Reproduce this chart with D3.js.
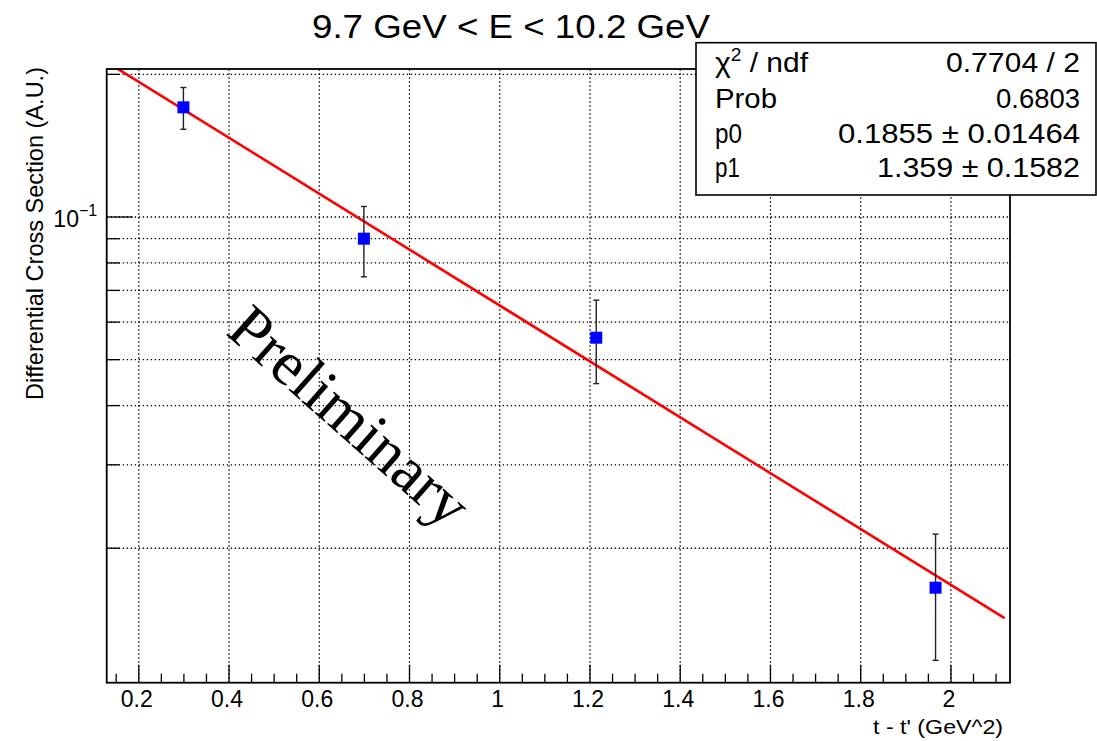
<!DOCTYPE html>
<html>
<head>
<meta charset="utf-8">
<script src="https://cdn.jsdelivr.net/npm/d3@7/dist/d3.min.js"></script>
<style>
  body { margin: 0; background: #fff; }
  svg { display: block; font-family: 'Liberation Sans', Arial, Helvetica, sans-serif; }
  .grid line { stroke: #000; stroke-width: 1.3; stroke-dasharray: 1.4 2.6; }
  .grid path, .ticks path { display: none; }
  .ticks line { stroke: #000; stroke-width: 1.3; }
</style>
</head>
<body>
<svg id="chart"></svg>
<script>
/* global d3:true */

// data
const xVals = [0.30, 0.70, 1.215, 1.967]
const yVals = [0.170, 0.0898, 0.0555, 0.01647]
const yErr = [0.0172, 0.0152, 0.0111, 0.0049]

// fitted exponential, two end points (straight on log axis)
const fitX = [0.14, 2.12]
const fitY = [0.209, 0.0142]

const xMajor = [0.2, 0.4, 0.6, 0.8, 1.0, 1.2, 1.4, 1.6, 1.8, 2.0]
const yTicks = [0.02, 0.03, 0.04, 0.05, 0.06, 0.07, 0.08, 0.09, 0.1, 0.2]

const titleText = '9.7 GeV < E < 10.2 GeV'
const xTitle = "t - t' (GeV^2)"
const yTitle = 'Differential Cross Section (A.U.)'
const statNames = ['/ ndf', 'Prob', 'p0', 'p1']
const statValues = ['0.7704 / 2', '0.6803', '0.1855 \u00b1 0.01464', '1.359 \u00b1 0.1582']

// dimensions
const w = 1097
const h = 741
const frame = { left: 106.7, right: 1010, top: 69, bottom: 682.7 }

const svg = d3.select('#chart')
  .attr('width', w)
  .attr('height', h)

const x = d3.scaleLinear()
  .domain([0.13, 2.132])
  .range([frame.left, frame.right])

const y = d3.scaleLog()
  .domain([0.01038, 0.2048])
  .range([frame.bottom, frame.top])

const fw = frame.right - frame.left
const fh = frame.bottom - frame.top

// grid
svg.append('g')
  .attr('class', 'grid')
  .attr('transform', `translate(0, ${frame.bottom})`)
  .call(d3.axisBottom(x).tickValues(xMajor).tickSize(-fh).tickFormat(''))

svg.append('g')
  .attr('class', 'grid')
  .attr('transform', `translate(${frame.left}, 0)`)
  .call(d3.axisLeft(y).tickValues(yTicks).tickSize(-fw).tickFormat(''))

// fit line
svg.append('clipPath')
  .attr('id', 'frameClip')
  .append('rect')
  .attr('x', frame.left)
  .attr('y', frame.top)
  .attr('width', fw)
  .attr('height', fh)

const fitLine = d3.line()
  .x(d => x(d[0]))
  .y(d => y(d[1]))

svg.append('path')
  .datum(fitX.map((d, i) => [d, fitY[i]]))
  .attr('clip-path', 'url(#frameClip)')
  .attr('d', fitLine)
  .attr('fill', 'none')
  .attr('stroke', '#ff0000')
  .attr('stroke-width', 2.6)

// error bars
const points = xVals.map((d, i) => ({ x: d, y: yVals[i], e: yErr[i] }))
const capW = 3

const bars = svg.append('g')
  .attr('stroke', '#222')
  .attr('stroke-width', 1.4)

bars.selectAll('.err')
  .data(points)
  .enter()
  .append('line')
  .attr('x1', d => x(d.x))
  .attr('x2', d => x(d.x))
  .attr('y1', d => y(d.y + d.e))
  .attr('y2', d => y(d.y - d.e))

bars.selectAll('.capTop')
  .data(points)
  .enter()
  .append('line')
  .attr('x1', d => x(d.x) - capW)
  .attr('x2', d => x(d.x) + capW)
  .attr('y1', d => y(d.y + d.e))
  .attr('y2', d => y(d.y + d.e))

bars.selectAll('.capBot')
  .data(points)
  .enter()
  .append('line')
  .attr('x1', d => x(d.x) - capW)
  .attr('x2', d => x(d.x) + capW)
  .attr('y1', d => y(d.y - d.e))
  .attr('y2', d => y(d.y - d.e))

// markers
const ms = 12
svg.selectAll('.marker')
  .data(points)
  .enter()
  .append('rect')
  .attr('x', d => x(d.x) - ms / 2)
  .attr('y', d => y(d.y) - ms / 2)
  .attr('width', ms)
  .attr('height', ms)
  .attr('fill', '#0000ff')

// axes ticks (pointing inward, root style)
const xMinor = d3.range(0.15, 2.13, 0.05).filter(v => Math.abs(v * 5 - Math.round(v * 5)) > 0.01)

svg.append('g')
  .attr('class', 'ticks')
  .attr('transform', `translate(0, ${frame.bottom})`)
  .call(d3.axisBottom(x).tickValues(xMinor).tickSize(-9).tickFormat(''))

const xAxis = svg.append('g')
  .attr('class', 'ticks')
  .attr('transform', `translate(0, ${frame.bottom})`)
  .call(d3.axisBottom(x).tickValues(xMajor).tickSize(-18).tickPadding(8)
    .tickFormat(d => String(+d.toFixed(1))))

xAxis.selectAll('text')
  .attr('x', -2)
  .attr('fill', '#000')
  .style('font-size', '23px')
  .style('font-family', 'Liberation Sans, Arial, sans-serif')

svg.append('g')
  .attr('class', 'ticks')
  .attr('transform', `translate(${frame.left}, 0)`)
  .call(d3.axisLeft(y).tickValues(yTicks.filter(v => v !== 0.1)).tickSize(-13).tickFormat(''))

const yAxis = svg.append('g')
  .attr('class', 'ticks')
  .attr('transform', `translate(${frame.left}, 0)`)
  .call(d3.axisLeft(y).tickValues([0.1]).tickSize(-26).tickPadding(9.5).tickFormat(() => '10'))

yAxis.selectAll('text')
  .attr('dy', 10)
  .attr('fill', '#000')
  .style('font-size', '23px')
  .style('font-family', 'Liberation Sans, Arial, sans-serif')
  .append('tspan')
  .attr('dy', -11)
  .style('font-size', '16px')
  .text('\u22121')

// frame
svg.append('rect')
  .attr('x', frame.left)
  .attr('y', frame.top)
  .attr('width', fw)
  .attr('height', fh)
  .attr('fill', 'none')
  .attr('stroke', '#000')
  .attr('stroke-width', 1.8)

// title and axis titles
svg.append('text')
  .attr('x', 511)
  .attr('y', 38)
  .attr('text-anchor', 'middle')
  .attr('textLength', 398)
  .attr('lengthAdjust', 'spacingAndGlyphs')
  .style('font-size', '33px')
  .text(titleText)

svg.append('text')
  .attr('x', 1003)
  .attr('y', 734)
  .attr('text-anchor', 'end')
  .attr('textLength', 130)
  .attr('lengthAdjust', 'spacingAndGlyphs')
  .style('font-size', '21px')
  .text(xTitle)

svg.append('text')
  .attr('transform', 'translate(43, 67) rotate(-90)')
  .attr('text-anchor', 'end')
  .attr('textLength', 333)
  .attr('lengthAdjust', 'spacingAndGlyphs')
  .style('font-size', '24px')
  .text(yTitle)

// watermark
svg.append('text')
  .attr('transform', 'translate(336, 432) rotate(41.5)')
  .attr('text-anchor', 'middle')
  .style('font-family', 'Liberation Serif, Times New Roman, serif')
  .style('font-size', '63px')
  .text('Preliminary')

// stats box
const box = { x: 696, y: 42.7, w: 400, h: 152.3 }
const rowBase = [72, 107.5, 142.5, 177]
const nameW = [93, 62, 27, 25]
const valueW = [134, 84, 242, 203]

svg.append('rect')
  .attr('x', box.x)
  .attr('y', box.y)
  .attr('width', box.w)
  .attr('height', box.h)
  .attr('fill', '#fff')
  .attr('stroke', '#000')
  .attr('stroke-width', 1.6)

const stats = svg.append('g')
  .style('font-size', '28px')

statNames.forEach((name, i) => {
  const t = stats.append('text')
    .attr('x', 715)
    .attr('y', rowBase[i])
    .attr('textLength', nameW[i])
    .attr('lengthAdjust', 'spacingAndGlyphs')
  if (i === 0) {
    t.append('tspan').text('\u03c7')
    t.append('tspan').attr('dy', -11).style('font-size', '18px').text('2')
    t.append('tspan').attr('dy', 11).text(' ' + name)
  } else {
    t.text(name)
  }
})

stats.selectAll('.val')
  .data(statValues)
  .enter()
  .append('text')
  .attr('x', 1080)
  .attr('y', (d, i) => rowBase[i])
  .attr('text-anchor', 'end')
  .attr('textLength', (d, i) => valueW[i])
  .attr('lengthAdjust', 'spacingAndGlyphs')
  .text(d => d)
</script>
</body>
</html>
